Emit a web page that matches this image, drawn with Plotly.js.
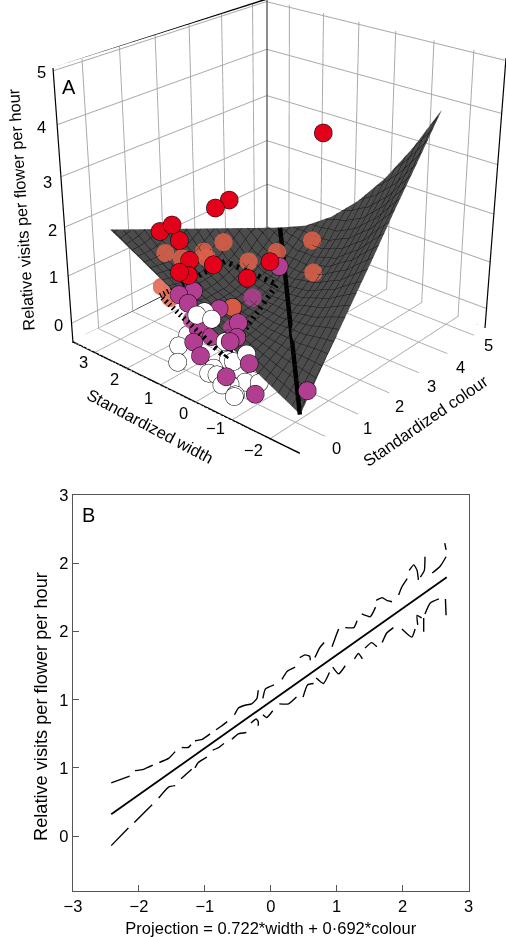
<!DOCTYPE html><html><head><meta charset="utf-8"><script src="https://cdn.plot.ly/plotly-3.0.1.min.js"></script>
<style>html,body{margin:0;background:#fff;overflow:hidden}#wrap{position:absolute;left:0;top:0;width:506px;height:490px;overflow:hidden}#a{position:absolute;left:-300px;top:-376.6px;width:1163px;height:1163px}#b{position:absolute;left:0;top:0;width:506px;height:937px}</style></head><body>
<div id="wrap"><div id="a"></div></div><div id="b"></div>
<script>
// Panel A axis ranges and ticks
var colourRange=[-0.73,5.46], widthRange=[-2.75,3.7], visitsRange=[-0.4,5.05];
var tickColour=[0,1,2,3,4,5], tickWidth=[-2,-1,0,1,2,3], tickVisits=[0,1,2,3,4,5];
// Panel A fitted surface (colour, width, visits)
var surfColour=[[-.47,-.48,-.49,-.50,-.51,-.51,-.52],[.25,.20,.15,.10,.04,-.01,-.06],[.97,.88,.79,.69,.60,.50,.41],[1.70,1.56,1.42,1.29,1.15,1.01,.87],[2.42,2.24,2.06,1.88,1.70,1.52,1.34],[3.15,2.92,2.70,2.48,2.25,2.03,1.80],[3.87,3.60,3.34,3.07,2.80,2.54,2.27]];
var surfWidth=[[-2.53,-1.68,-.84,.00,.84,1.69,2.53],[-2.50,-1.72,-.94,-.16,.62,1.40,2.18],[-2.48,-1.76,-1.04,-.33,.39,1.11,1.83],[-2.46,-1.80,-1.14,-.49,.17,.82,1.48],[-2.43,-1.84,-1.25,-.65,-.06,.54,1.13],[-2.41,-1.88,-1.35,-.82,-.28,.25,.78],[-2.39,-1.92,-1.45,-.98,-.51,-.04,.43]];
var surfVisits=[[.16,.50,.84,1.18,1.52,1.86,2.20],[.87,.84,.91,1.07,1.33,1.69,2.15],[1.57,1.25,1.09,1.10,1.27,1.60,2.10],[2.28,1.74,1.40,1.26,1.32,1.59,2.05],[2.99,2.30,1.82,1.56,1.50,1.64,2.00],[3.69,2.94,2.37,1.99,1.79,1.78,1.95],[4.40,3.65,3.03,2.55,2.20,1.98,1.90]];
// Panel A points [colour, width, visits]
var redPts=[[1.89,-1.02,4.20],[.63,.30,3.00],[.19,.25,3.00],[-.22,1.04,2.60],[-.38,1.22,2.48],[-.18,.89,2.33],[-.24,.56,2.06],[.11,.26,1.94],[-.57,.51,1.96],[-.46,.38,1.90],[.97,-.46,1.91],[.44,-.34,1.74]];
var belowRedPts=[[-.12,1.37,1.93],[.56,.97,1.84],[.98,.82,1.93],[.10,1.13,1.82],[.54,.87,1.75],[1.16,.30,1.63],[1.63,-.05,1.76],[2.12,-.57,1.97],[1.58,-1.07,1.66],[.20,1.86,1.00],[-.03,1.37,1.00]];
var purplePts=[[1.23,-.47,1.73],[-.44,.27,1.62],[-.68,.43,1.59],[-.68,.18,1.50],[-.31,-.29,1.40],[-.28,-.77,1.27],[.42,1.05,.30],[.36,.61,.30],[-.58,-1.01,1.18],[-.69,-.94,1.12],[-.03,.73,.30],[-.33,.24,.30],[-.69,-1.43,.86],[-.57,-.70,.30],[-.67,-1.56,.30],[-.48,-2.70,.69]];
var belowPurplePts=[[.64,-.29,1.27],[-.29,-.61,1.12],[.27,.65,.50],[.31,1.12,.50]];
var salmonPts=[[-.07,-.42,1.38]];
var whitePts=[[-.69,-.06,1.35],[-.53,-.11,1.37],[-.55,-.32,1.30],[.51,1.46,.00],[.07,1.28,.00],[-.40,.83,.00],[-.67,-.79,1.06],[-.62,-1.30,.97],[.32,.10,.00],[.34,-.02,.00],[-.10,.11,.00],[-.30,.05,.00],[-.24,-.12,.00],[-.45,-.46,.00],[-.34,-.58,.00],[-.08,-.74,.00],[.05,-.80,.00],[.08,-.97,.00],[-.54,-.91,.00],[-.60,-.94,.00]];
var rhombus=[[-.10,1.59,1.00],[-.21,.83,1.50],[.39,.82,1.51],[.93,.73,1.58],[1.06,.38,1.48],[1.19,.02,1.39],[1.26,-.39,1.33],[.61,-.51,1.12],[-.11,-.72,.98],[-.69,-.81,.76],[-.67,-.21,.96],[-.42,.64,1.00],[-.10,1.59,1.00]];
var ridge=[[-.53,-2.57,.20],[-.07,-2.04,.73],[.65,-1.28,1.10],[1.53,-.37,1.43],[2.20,.37,1.94]];
// Panel B
var projTicks=[-3,-2,-1,0,1,2,3], projLabels=['\u22123','\u22122','\u22121','0','1','2','3'];
var visitTicks=[0,.5,1,1.5,2,2.5], visitLabels=['0','1','1','2','2','3'];
var fitX=[-2.42,2.67], fitY=[.16,1.90];
var upperX=[-2.42,-2.14,null,-2.06,-1.93,-1.79,null,-1.69,-1.55,-1.45,null,-1.35,-1.25,-1.21,null,-1.15,-1.04,-.92,null,-.83,-.74,-.66,null,-.55,-.49,-.39,-.29,-.21,-.19,null,-.12,-.08,.05,null,.17,.25,.37,null,.44,.52,.59,.60,null,.67,.74,.81,null,.93,.99,1.03,null,1.13,1.26,1.31,null,1.38,1.51,1.59,null,1.60,1.69,1.76,1.84,null,1.94,1.99,2.07,null,2.10,2.17,2.22,2.24,null,2.27,2.33,2.34,null,2.45,2.57,2.66,null,2.64,2.66];
var upperY=[.39,.44,null,.48,.49,.52,null,.54,.57,.62,null,.65,.65,.67,null,.70,.71,.75,null,.78,.81,.84,null,.89,.94,.96,.97,1.01,1.07,null,1.01,1.08,1.11,null,1.15,1.21,1.24,null,1.31,1.33,1.32,1.29,null,1.31,1.38,1.42,null,1.39,1.47,1.52,null,1.53,1.53,1.58,null,1.63,1.61,1.68,null,1.73,1.75,1.73,1.72,null,1.77,1.83,1.89,null,1.95,1.99,1.95,1.88,null,1.90,1.95,2.05,null,1.93,1.98,2.05,null,2.15,2.10];
var lowerX=[-2.42,-2.16,null,-2.07,-1.80,null,-1.70,-1.55,-1.45,null,-1.36,-1.20,null,-1.15,-1.10,-.97,null,-.88,-.79,-.71,null,-.59,-.49,-.37,null,-.30,-.22,-.19,-.19,null,-.12,-.06,.03,null,.13,.27,.39,null,.49,.56,.65,null,.69,.80,.89,null,.94,1.03,1.13,null,1.27,1.33,1.39,null,1.43,1.53,1.61,null,1.69,1.76,1.86,null,1.99,2.14,2.19,null,2.23,2.22,2.29,null,2.32,2.32,null,2.34,2.42,2.55,null,2.65,2.66];
var lowerY=[-.07,.06,null,.10,.23,null,.28,.36,.37,null,.42,.49,null,.50,.54,.58,null,.63,.65,.68,null,.71,.75,.76,null,.83,.86,.84,.81,null,.89,.87,.92,null,.97,.97,1.02,null,1.02,1.11,1.12,null,1.16,1.12,1.20,null,1.24,1.19,1.25,null,1.30,1.34,1.30,null,1.38,1.42,1.39,null,1.42,1.49,1.53,null,1.52,1.46,1.52,null,1.55,1.62,1.60,null,1.60,1.50,null,1.63,1.71,1.74,null,1.74,1.62];
var yTitle='Relative visits per flower per hour', xTitle='Projection = 0.722*width + 0\u00b7692*colour';

var FONT='"Liberation Sans", Arial, sans-serif';
function col(a,i){return a.map(function(q){return q[i]})}
function ax3(r,t){return {range:r,autorange:false,tickvals:t,showticklabels:false,ticks:'',gridcolor:'#a8a8a8',gridwidth:2,zeroline:false,showbackground:false,showline:false,showspikes:false,title:{text:''}}}
var c0=colourRange[0],c1=colourRange[1],w0=widthRange[0],w1=widthRange[1],z0=visitsRange[0],z1=visitsRange[1];
var tr=[];
function edge(a,b,c){tr.push({type:'scatter3d',mode:'lines',x:[a[0],b[0]],y:[a[1],b[1]],z:[a[2],b[2]],line:{color:c||'#000',width:3},hoverinfo:'skip',showlegend:false})}
edge([c0,w0,z0],[c1,w0,z0]);edge([c0,w0,z0],[c0,w1,z0]);edge([c1,w0,z0],[c1,w1,z0]);edge([c0,w1,z0],[c1,w1,z0]);
edge([c0,w1,z1],[c1,w1,z1]);edge([c1,w0,z1],[c1,w1,z1]);
tr.push({type:'surface',x:surfColour,y:surfWidth,z:surfVisits,showscale:false,colorscale:[[0,'#4c4c4c'],[1,'#4c4c4c']],lighting:{ambient:1,diffuse:0,specular:0,roughness:1,fresnel:0},hoverinfo:'skip',contours:{x:{show:true,start:-1,end:6,size:.17,color:'#151515',width:1},y:{show:true,start:-3,end:4,size:.17,color:'#151515',width:1},z:{show:false}}});
function pts(a,c,lw,o){tr.push({type:'scatter3d',mode:'markers',x:col(a,0),y:col(a,1),z:col(a,2),marker:{size:10.5,color:c,opacity:o||1,line:{color:'#000',width:lw}},hoverinfo:'skip',showlegend:false})}
pts(whitePts,'#fff',1);pts(purplePts,'#b23e91',1);pts(redPts,'#e2001a',1);pts(salmonPts,'#d75a46',1);pts(belowRedPts,'#e0604a',0,.85);pts(belowPurplePts,'#b23e91',0,.85);
tr.push({type:'scatter3d',mode:'lines',x:col(rhombus,0),y:col(rhombus,1),z:col(rhombus,2),line:{color:'#000',width:11,dash:'dash'},hoverinfo:'skip',showlegend:false});
tr.push({type:'scatter3d',mode:'lines',x:col(ridge,0),y:col(ridge,1),z:col(ridge,2),line:{color:'#000',width:9},hoverinfo:'skip',showlegend:false});
Plotly.newPlot('a',tr,{width:1163,height:1163,margin:{l:0,r:0,t:0,b:0},paper_bgcolor:'rgba(0,0,0,0)',showlegend:false,scene:{domain:{x:[0,1],y:[0,1]},aspectmode:'manual',aspectratio:{x:1,y:1.006,z:.977},camera:{eye:{x:-3.173,y:-2.735,z:1.908},center:{x:0,y:0,z:0},up:{x:0,y:0,z:1}},xaxis:ax3(colourRange,tickColour),yaxis:ax3(widthRange,tickWidth),zaxis:ax3(visitsRange,tickVisits)}},{displayModeBar:false});

function note(t,x,y,size,ang){return {text:t,xref:'paper',yref:'paper',x:x/506,y:1-y/937,xanchor:'center',yanchor:'middle',showarrow:false,textangle:ang||0,font:{family:FONT,size:size,color:'#000'}}}
function frame(x0,y0,x1,y1,c){return {type:'line',xref:'paper',yref:'paper',x0:x0/506,y0:1-y0/937,x1:x1/506,y1:1-y1/937,line:{color:c,width:1.2}}}
var anns=[note('A',69,87,20),note('B',88,515,20),
 note('5',41,72,16.5),note('4',41,127,16.5),note('3',47,182,16.5),note('2',52,230,16.5),note('1',53,277,16.5),note('0',58,325,16.5),
 note('3',83,362,16.5),note('2',114,379,16.5),note('1',148,398,16.5),note('0',183,413,16.5),note('\u22121',215,428,16.5),note('\u22122',253,450,16.5),
 note('0',336,448,16.5),note('1',367,428,16.5),note('2',399,406,16.5),note('3',431,386,16.5),note('4',460,367,16.5),note('5',488,345,16.5),
 note('Standardized width',150,426,16.5,28),note('Standardized colour',425,421,16.5,-34.5),note(yTitle,21,210,16.4,-93.7),note(yTitle,41,707,18.2,-90)];
var lines=[{x:upperX,y:upperY,w:1.4},{x:lowerX,y:lowerY,w:1.4},{x:fitX,y:fitY,w:1.8}].map(function(d){return {type:'scatter',mode:'lines',x:d.x,y:d.y,connectgaps:false,line:{color:'#000',width:d.w,shape:'spline',smoothing:.5},hoverinfo:'skip',showlegend:false}});
lines[2].line.shape='linear';
Plotly.newPlot('b',lines,{width:506,height:937,margin:{l:0,r:0,t:0,b:0},paper_bgcolor:'rgba(0,0,0,0)',plot_bgcolor:'rgba(0,0,0,0)',showlegend:false,annotations:anns,
 shapes:[frame(53,68,73,343,'#000'),frame(506,58,485,328,'#000'),frame(267,0,267,243,'#444')],
 xaxis:{domain:[73/506,468.5/506],range:[-3,3],tickvals:projTicks,ticktext:projLabels,ticks:'inside',ticklen:6,tickcolor:'#555',showgrid:false,zeroline:false,showline:true,mirror:true,linecolor:'#555',linewidth:1.3,tickfont:{family:FONT,size:16.5,color:'#000'},title:{text:xTitle,font:{family:FONT,size:16.5,color:'#000'},standoff:8},automargin:false},
 yaxis:{domain:[1-891/937,1-495/937],range:[-.403,2.503],tickvals:visitTicks,ticktext:visitLabels,ticks:'inside',ticklen:6,tickcolor:'#555',showgrid:false,zeroline:false,showline:true,mirror:true,linecolor:'#555',linewidth:1.3,tickfont:{family:FONT,size:16.5,color:'#000'},automargin:false}},{displayModeBar:false});
</script></body></html>
